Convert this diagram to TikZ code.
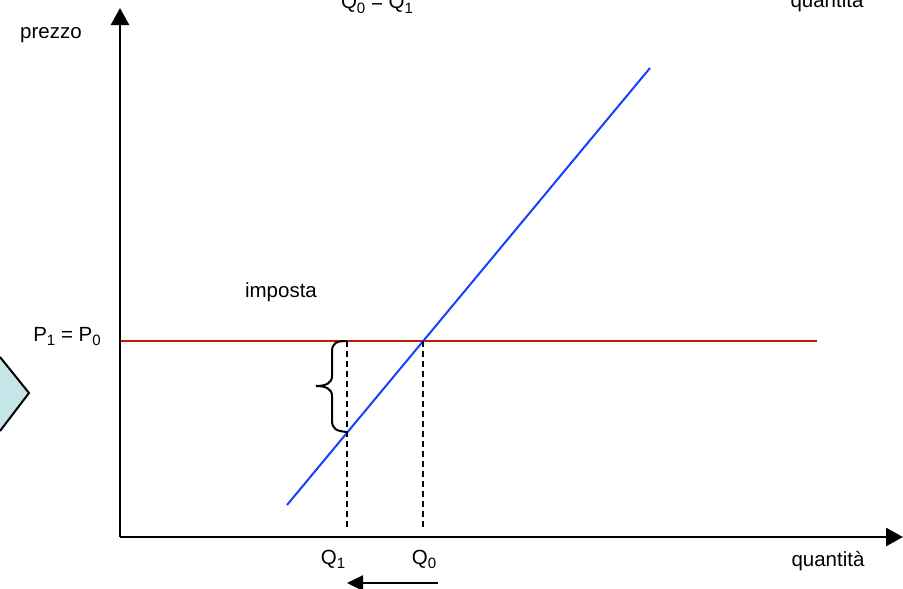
\documentclass[tikz,border=0pt]{standalone}
\usepackage{fontspec}
\setmainfont{Liberation Sans}
\usetikzlibrary{arrows.meta}
\definecolor{supred}{RGB}{188,30,8}
\definecolor{demblue}{RGB}{20,64,255}
\definecolor{paleteal}{RGB}{197,229,232}
\newcommand{\sbs}[1]{\raisebox{-0.22em}{\fontsize{15}{16}\selectfont #1}}
\begin{document}
\begin{tikzpicture}[x=1pt,y=-1pt,
  lbl/.style={anchor=base,inner sep=0pt,font=\fontsize{20.5}{24}\selectfont},
  axisline/.style={line width=2.8pt,-{Triangle[length=17pt,width=18pt]}},
  guide/.style={line width=2pt,dash pattern=on 6pt off 4pt},
  curve/.style={line width=2pt}]
\useasboundingbox (0,0) rectangle (903,589);
% partial diamond at left edge
\fill[paleteal] (0,357) -- (29,393) -- (0,431) -- cycle;
\draw[line width=2pt,line join=miter] (0,357) -- (29,393) -- (0,431);
% coordinates
\coordinate (O) at (120,537);
\coordinate (Ytop) at (120,8);
\coordinate (Xend) at (903,537);
\coordinate (PL) at (120,341);
\coordinate (PR) at (817,341);
\coordinate (S1) at (287,505);
\coordinate (S2) at (650,68);
\coordinate (E) at (423,341);
\coordinate (Ebot) at (423,530);
\coordinate (A) at (347,341);
\coordinate (B) at (347,432);
\coordinate (Abot) at (347,530);
\coordinate (ArrT) at (438,583);
\coordinate (ArrH) at (347,583);
% lines
\draw[curve,supred] (PL) -- (PR);
\draw[curve,demblue] (S1) -- (S2);
\draw[guide] (A) -- (Abot);
\draw[guide] (E) -- (Ebot);
% brace
\draw[line width=2pt] (A) .. controls (336,341) and (332,343) .. (332,352) -- (332,376)
  .. controls (332,383) and (326,386) .. (316,386)
  .. controls (326,386) and (332,389) .. (332,396) -- (332,420)
  .. controls (332,429) and (336,431) .. (B);
% axes
\draw[axisline] (O) -- (Ytop);
\draw[axisline] (O) -- (Xend);
% shift arrow
\draw[line width=2.5pt,-{Triangle[length=16pt,width=15pt]}] (ArrT) -- (ArrH);
% labels
\node[lbl] (prezzo) at (51,38) {prezzo};
\node[lbl] (qeq) at (377,9) {Q\sbs{0} = Q\sbs{1}};
\node[lbl] (qtop) at (827,8) {quantità};
\node[lbl] (imposta) at (281,297) {imposta};
\node[lbl] (peq) at (67,341) {P\sbs{1} = P\sbs{0}};
\node[lbl] (q1) at (333,564) {Q\sbs{1}};
\node[lbl] (q0) at (424,564) {Q\sbs{0}};
\node[lbl] (qbot) at (828,566) {quantità};
\end{tikzpicture}
\end{document}
